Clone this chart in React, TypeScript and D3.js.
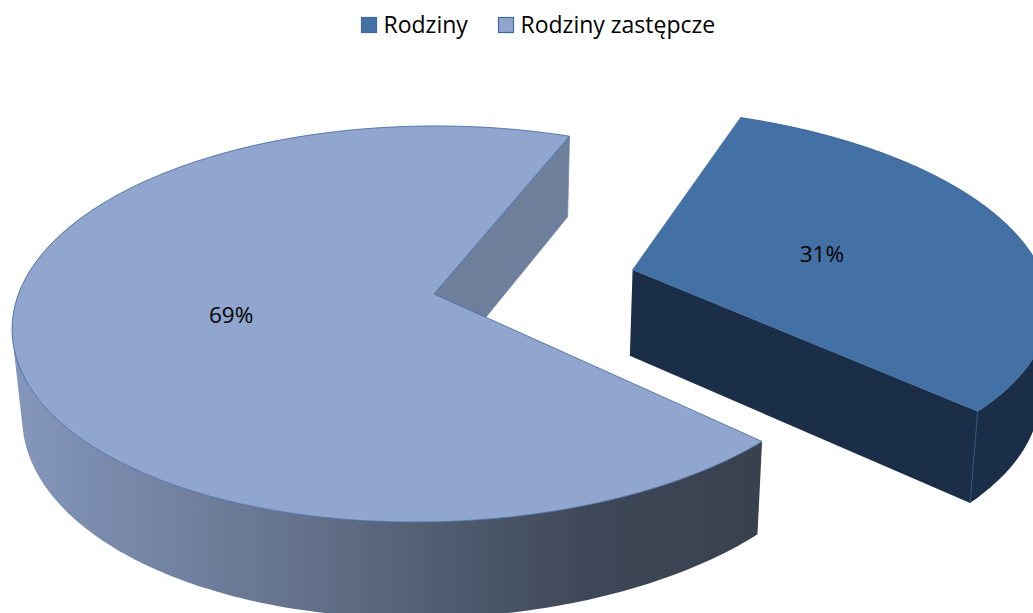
import React from "react";
import * as d3 from "d3";

const categories = ["Rodziny", "Rodziny zastępcze"];
const values = [31, 69];
const labels = ["31%", "69%"];
const topColors = ["#4371a6", "#91a6ce"];
const wallColors = ["#1b2e47", "#6d7f9b"];

const W = 1033;
const H = 613;
const apex = { x: 434, y: 294 };
const A = 415.5;
const B = 193.5;
const P = -0.1515;
const START = (21.5 * Math.PI) / 180;
const EXPLODE = [{ u: 0.485, v: -0.128 }, { u: 0, v: 0 }];
const toRad = (deg: number) => (deg * Math.PI) / 180;

const project = (u: number, v: number) => {
  const k = 1 + P * v;
  const y = (B * v) / k;
  const skew = -0.0425 * y - 1.873e-4 * y * y;
  return { x: apex.x + (A * u) / k + skew, y: apex.y + y };
};
const drop = (p: { x: number; y: number }) => ({
  x: apex.x + (p.x - apex.x) * (p.x < apex.x ? 0.976 : 0.986),
  y: p.y + 86 + 0.04 * (p.y - 270),
});

const pieGen = d3.pie<number>().sort(null).startAngle(START).endAngle(START + 2 * Math.PI);
const arcs = pieGen(values);
const line = d3.line<{ x: number; y: number }>().x((d) => d.x).y((d) => d.y);

const rimPoint = (i: number, t: number, r = 1) =>
  project(EXPLODE[i].u + r * Math.sin(t), EXPLODE[i].v - r * Math.cos(t));

const sampleRim = (i: number, a0: number, a1: number) =>
  d3.range(0, 181).map((n) => rimPoint(i, a0 + ((a1 - a0) * n) / 180));

const quads = (pts: { x: number; y: number }[]) => {
  const parts: string[] = [];
  for (let n = 0; n < pts.length - 1; n++) {
    const q = [pts[n], pts[n + 1], drop(pts[n + 1]), drop(pts[n])];
    const area = d3.polygonArea(q.map((p) => [p.x, p.y] as [number, number]));
    parts.push(line(area < 0 ? q.reverse() : q) + "Z");
  }
  return parts.join("");
};

export default function App() {
  const [small, big] = arcs;
  const smallApex = project(EXPLODE[0].u, EXPLODE[0].v);
  const bigApex = project(0, 0);
  const smallRim = sampleRim(0, small.startAngle, small.endAngle);
  const bigRim = sampleRim(1, big.startAngle, big.endAngle);
  const smallC = smallRim[smallRim.length - 1];
  const bigS = bigRim[bigRim.length - 1];
  const bigOuterVisible = sampleRim(1, big.startAngle, toRad(300));

  const labelPos = arcs.map((a, i) => {
    const mid = (a.startAngle + a.endAngle) / 2;
    return rimPoint(i, mid, 0.49);
  });

  return (
    <svg
      width={W}
      height={H}
      viewBox={`0 0 ${W} ${H}`}
      style={{ position: "absolute", left: 0, top: 0, display: "block", background: "#fff" }}
    >
      <defs>
        <linearGradient id="bigWall" gradientUnits="userSpaceOnUse" x1={12} x2={763} y1={0} y2={0}>
          <stop offset="0" stopColor="#8497bc" />
          <stop offset="0.383" stopColor="#64728c" />
          <stop offset="0.583" stopColor="#4f5b6f" />
          <stop offset="0.77" stopColor="#3e4757" />
          <stop offset="1" stopColor="#39414f" />
        </linearGradient>
      </defs>

      {/* large slice */}
      <path d={quads(bigOuterVisible)} fill="url(#bigWall)" />
      <path
        d={line([bigApex, bigS, drop(bigS), drop(bigApex)]) + "Z"}
        fill={wallColors[1]}
        stroke="#6f86ab"
        strokeWidth={0.8}
      />
      <path
        d={line([bigApex, ...bigRim]) + "Z"}
        fill={topColors[1]}
        stroke="#4a6fa5"
        strokeWidth={0.9}
        strokeLinejoin="round"
      />

      {/* exploded slice */}
      <path d={line([smallApex, smallC, drop(smallC), drop(smallApex)]) + "Z"} fill={wallColors[0]} />
      <path d={quads(smallRim)} fill={wallColors[0]} />
      <path d={line([smallC, drop(smallC)]) ?? ""} stroke="#2a5384" strokeWidth={1} fill="none" />
      <path
        d={line([smallApex, ...smallRim]) + "Z"}
        fill={topColors[0]}
        stroke="#3f6a9e"
        strokeWidth={0.6}
        strokeLinejoin="round"
      />

      {/* value labels */}
      {labels.map((t, i) => (
        <text
          key={t}
          x={labelPos[i].x}
          y={labelPos[i].y + (i === 0 ? 12 : 8)}
          textAnchor="middle"
          fontFamily="'Open Sans', sans-serif"
          fontSize={22.5}
          fill="#000"
        >
          {t}
        </text>
      ))}

      {/* legend */}
      {categories.map((c, i) => {
        const x = [361.5, 498.5][i];
        return (
          <g key={c}>
            <rect x={x} y={17.5} width={15} height={15} fill={topColors[i]} stroke="#3f6a9e" strokeWidth={1.2} />
            <text
              x={x + 22}
              y={33}
              fontFamily="'Open Sans', sans-serif"
              fontSize={23}
              fill="#000"
            >
              {c}
            </text>
          </g>
        );
      })}
    </svg>
  );
}
